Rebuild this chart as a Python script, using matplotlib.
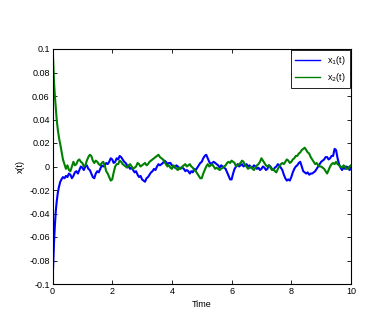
import numpy as np
import matplotlib
matplotlib.use("Agg")
import matplotlib.pyplot as plt
from matplotlib.ticker import FuncFormatter

plt.rcParams['font.family'] = ['Liberation Sans', 'DejaVu Sans']
plt.rcParams['axes.unicode_minus'] = False

# time grid: dense at the start (fast transient), then every 0.05
t_start = [0, 0.02, 0.05, 0.08, 0.11, 0.14, 0.18, 0.22, 0.26, 0.3, 0.35, 0.4, 0.45]
t_rest = np.round(np.arange(0.5, 10.001, 0.05), 2)
t = np.concatenate([t_start, t_rest])

x1 = [-0.100, -0.085, -0.065, -0.050, -0.038, -0.030, -0.022, -0.017, -0.013, -0.011,
      -0.009, -0.010, -0.008,
      -0.009, -0.006, -0.007, -0.010, -0.008, -0.005, -0.004, -0.006, -0.003, 0.000,
      -0.001, -0.003, 0.000, 0.001, -0.002, -0.003, -0.006, -0.009, -0.010, -0.006,
      -0.004, -0.005, -0.002, 0.001, 0.000, 0.001, 0.003, 0.002, 0.004, 0.007,
      0.006, 0.003, 0.004, 0.007, 0.006, 0.009, 0.008, 0.006, 0.004, 0.003,
      0.001, 0.000, -0.002, -0.001, -0.003, -0.005, -0.004, -0.007, -0.009, -0.008,
      -0.011, -0.012, -0.013, -0.010, -0.009, -0.007, -0.005, -0.004, -0.002, -0.003,
      0.000, 0.002, 0.001, 0.002, 0.003, 0.005, 0.004, 0.002, 0.003, 0.003,
      0.001, 0.000, -0.001, 0.001, 0.000, -0.002, -0.001, -0.001, -0.002, -0.004,
      -0.003, -0.004, -0.006, -0.004, -0.005, -0.002, -0.003, -0.001, 0.001, 0.003,
      0.004, 0.007, 0.009, 0.010, 0.007, 0.004, 0.002, 0.003, 0.004, 0.003,
      0.002, 0.001, -0.001, 0.001, 0.000, -0.001, -0.002, -0.005, -0.008, -0.011,
      -0.011, -0.006, -0.002, 0.000, 0.002, 0.000, 0.001, 0.002, 0.000, 0.001,
      0.002, 0.000, 0.001, -0.001, -0.001, 0.001, 0.000, -0.002, -0.001, -0.003,
      -0.002, 0.000, -0.001, -0.003, -0.002, 0.001, 0.000, -0.002, -0.003, -0.001,
      0.000, 0.002, 0.001, -0.001, -0.003, -0.007, -0.010, -0.012, -0.011, -0.012,
      -0.009, -0.005, -0.002, 0.000, 0.001, 0.003, 0.004, 0.000, -0.004, -0.005,
      -0.006, -0.005, -0.007, -0.006, -0.006, -0.005, -0.004, -0.002, 0.000, 0.002,
      0.004, 0.005, 0.006, 0.008, 0.008, 0.006, 0.007, 0.009, 0.009, 0.015,
      0.014, 0.007, 0.002, -0.001, -0.003, -0.001, -0.002, 0.000, -0.001, -0.003,
      -0.002]

x2 = [0.100, 0.092, 0.072, 0.060, 0.050, 0.040, 0.031, 0.024, 0.019, 0.013,
      0.006, 0.002, -0.002,
      0.001, -0.003, -0.004, 0.000, 0.004, 0.001, 0.002, 0.005, 0.006, 0.004,
      0.003, 0.000, 0.001, 0.005, 0.008, 0.010, 0.009, 0.005, 0.003, 0.005,
      0.004, 0.002, 0.001, 0.003, 0.004, 0.001, -0.004, -0.006, -0.009, -0.012,
      -0.011, -0.005, 0.000, 0.002, 0.002, 0.005, 0.004, 0.002, 0.001, 0.000,
      -0.001, 0.001, 0.002, 0.000, -0.002, -0.001, 0.000, 0.003, 0.002, 0.000,
      0.001, 0.002, 0.003, 0.001, 0.002, 0.004, 0.005, 0.006, 0.007, 0.008,
      0.009, 0.010, 0.008, 0.007, 0.006, 0.004, 0.002, 0.000, 0.001, -0.001,
      -0.002, 0.001, 0.000, -0.002, -0.003, -0.001, -0.002, 0.000, 0.001, 0.002,
      0.000, 0.001, 0.002, 0.000, -0.001, -0.003, -0.004, -0.006, -0.008, -0.010,
      -0.010, -0.006, -0.003, 0.000, 0.002, 0.000, 0.001, 0.002, 0.000, -0.002,
      -0.001, -0.002, -0.003, -0.002, -0.001, 0.000, 0.001, 0.003, 0.004, 0.003,
      0.005, 0.004, 0.003, 0.000, 0.001, 0.002, 0.003, 0.005, 0.004, 0.001,
      0.000, -0.002, -0.001, 0.000, -0.002, -0.003, -0.001, 0.001, 0.002, 0.004,
      0.007, 0.005, 0.003, 0.001, 0.000, 0.001, -0.001, -0.003, -0.002, -0.004,
      -0.005, -0.002, 0.000, 0.002, 0.003, 0.002, 0.004, 0.006, 0.005, 0.003,
      0.004, 0.006, 0.007, 0.009, 0.009, 0.011, 0.012, 0.014, 0.015, 0.016,
      0.014, 0.012, 0.011, 0.008, 0.006, 0.004, 0.002, 0.003, 0.001, 0.000,
      0.000, -0.001, -0.002, -0.004, -0.006, -0.003, 0.000, 0.002, 0.003, 0.002,
      0.004, 0.002, 0.001, 0.000, -0.001, 0.001, 0.000, -0.002, -0.002, 0.000,
      0.001]

xticks = [0, 2, 4, 6, 8, 10]
yticks = [-0.1, -0.08, -0.06, -0.04, -0.02, 0, 0.02, 0.04, 0.06, 0.08, 0.1]

fig = plt.figure(figsize=(3.82, 3.14), dpi=100)
ax = fig.add_axes([52.5 / 382, 1 - 284 / 314, 298.5 / 382, 235 / 314])

ax.plot(t, x1, color=(0, 0, 1), lw=1.5, label='x$_1$(t)')
ax.plot(t, x2, color=(0, 0.5, 0), lw=1.5, label='x$_2$(t)')

ax.set_xlim(0, 10)
ax.set_ylim(-0.1, 0.1)
ax.set_xticks(xticks)
ax.set_yticks(yticks)
ax.yaxis.set_major_formatter(FuncFormatter(lambda v, p: '%g' % round(v, 3)))
ax.tick_params(direction='in', length=3, width=0.6, labelsize=6.5, pad=2,
               top=True, right=True)
for s in ax.spines.values():
    s.set_linewidth(0.8)

ax.set_xlabel('Time', fontsize=6.5, labelpad=3)
ax.set_ylabel('x(t)', fontsize=6.5, labelpad=3)

leg = ax.legend(loc='upper right', fontsize=6.5, fancybox=False, framealpha=1,
                edgecolor='black', borderaxespad=0.15, handlelength=2.8,
                borderpad=0.4, labelspacing=0.5)
leg.get_frame().set_linewidth(0.6)
for line in leg.get_lines():
    line.set_linewidth(1.0)

fig.savefig('out.png', dpi=100)
